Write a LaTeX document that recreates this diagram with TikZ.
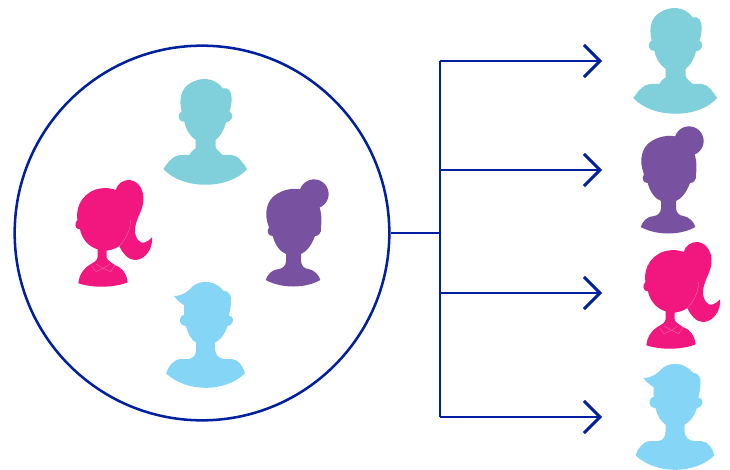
\documentclass[tikz,border=0pt]{standalone}
\usetikzlibrary{arrows.meta}
\definecolor{navy}{HTML}{00209F}
\definecolor{teal1}{HTML}{7FD0DB}
\definecolor{pink1}{HTML}{F2167F}
\definecolor{purp1}{HTML}{7851A1}
\definecolor{sky1}{HTML}{84D5F6}
\tikzset{
  x=0.75pt,y=-0.75pt,
  link/.style={draw=navy,line width=1.9pt},
  arrowlink/.style={link,-{Straight Barb[length=12pt,width=24pt,line width=2.2pt]}},
  teal man/.pic={
    \fill[teal1,x=0.25pt,y=-0.25pt] (95,125) .. controls (85,85) and (95,55) .. (120,40) .. controls (150,20) and (195,22) .. (218,55) .. controls (235,50) and (245,65) .. (245,85) .. controls (245,100) and (242,115) .. (238,125) .. controls (247,127) and (250,145) .. (240,152) .. controls (235,157) and (230,157) .. (228,157) .. controls (222,180) and (212,198) .. (197,210) -- (197,232) .. controls (200,240) and (210,248) .. (218,255) -- (245,255) .. controls (265,256) and (280,280) .. (291,297) .. controls (240,358) and (100,362) .. (40,297) .. controls (55,275) and (70,255) .. (95,255) -- (118,255) .. controls (122,245) and (130,240) .. (137,235) -- (137,210) .. controls (120,198) and (108,180) .. (103,155) .. controls (90,157) and (85,145) .. (87,135) .. controls (88,130) and (92,125) .. (95,125) -- cycle;
  },
  pink girl/.pic={
    \begin{scope}[x=0.25pt,y=-0.25pt]
    \fill[pink1] (60,178) .. controls (50,178) and (44,170) .. (47,158) .. controls (48,155) and (50,153) .. (52,150) .. controls (45,105) and (75,60) .. (125,55) .. controls (140,53) and (155,55) .. (167,60) .. controls (172,42) and (190,28) .. (210,30) .. controls (240,35) and (253,65) .. (250,95) .. controls (247,125) and (225,150) .. (225,180) .. controls (225,205) and (240,222) .. (252,218) .. controls (262,215) and (270,210) .. (276,202) .. controls (280,235) and (255,270) .. (225,270) .. controls (205,270) and (188,250) .. (178,228) .. controls (168,235) and (155,240) .. (140,242) -- (140,262) .. controls (142,272) and (155,278) .. (165,285) .. controls (185,292) and (200,310) .. (203,337) .. controls (160,354) and (100,354) .. (55,340) .. controls (58,312) and (72,295) .. (88,285) .. controls (98,278) and (110,275) .. (113,262) -- (113,238) .. controls (85,230) and (65,205) .. (60,178) -- cycle;
    \draw[white,opacity=.35,line width=.3pt] (212,150) .. controls (212,175) and (200,205) .. (178,228) (95,288) -- (108,305) -- (130,295) -- (152,305) -- (165,285) (108,282) -- (130,295) -- (150,282);
    \end{scope}
  },
  purple girl/.pic={
    \begin{scope}[x=0.25pt,y=-0.25pt]
    \fill[purp1] (177,72) circle[radius=44];
    \fill[purp1] (42,172) .. controls (25,130) and (35,90) .. (65,72) .. controls (100,50) and (150,50) .. (175,80) .. controls (195,100) and (203,135) .. (198,172) .. controls (200,190) and (190,198) .. (180,198) .. controls (170,225) and (155,245) .. (138,252) -- (138,275) .. controls (140,290) and (150,296) .. (160,297) .. controls (178,300) and (192,315) .. (196,330) .. controls (150,356) and (80,356) .. (32,330) .. controls (38,312) and (52,298) .. (72,297) .. controls (82,296) and (92,288) .. (93,275) -- (93,252) .. controls (75,245) and (60,225) .. (53,198) .. controls (40,198) and (33,185) .. (42,172) -- cycle;
    \end{scope}
  },
  blue man/.pic={
    \fill[sky1,x=0.25pt,y=-0.25pt] (87,105) .. controls (78,100) and (65,90) .. (57,78) .. controls (80,78) and (100,65) .. (112,50) .. controls (130,33) and (175,25) .. (205,62) .. controls (222,62) and (230,78) .. (228,95) .. controls (227,110) and (225,125) .. (221,137) .. controls (235,137) and (238,155) .. (228,163) .. controls (225,166) and (220,168) .. (217,168) .. controls (212,190) and (198,208) .. (180,218) -- (180,240) .. controls (182,255) and (192,266) .. (208,267) -- (230,267) .. controls (250,268) and (265,290) .. (270,310) .. controls (210,368) and (95,368) .. (33,310) .. controls (40,290) and (55,268) .. (78,267) -- (100,267) .. controls (115,266) and (123,255) .. (123,240) -- (123,218) .. controls (108,208) and (98,190) .. (93,168) .. controls (80,168) and (73,158) .. (75,147) .. controls (77,138) and (82,135) .. (87,135) -- cycle;
  },
}
\begin{document}
\begin{tikzpicture}
\useasboundingbox (0,0) rectangle (730,470);
\node[circle,draw=navy,line width=1.9pt,minimum size=281pt,inner sep=0pt] (crowd) at (202,233) {};
\pic at (150,70) {teal man};
\pic at (60,170) {pink girl};
\pic at (255,170) {purple girl};
\pic at (155,270) {blue man};
\pic at (620,-1) {teal man};
\pic at (375+255,117) {purple girl};
\pic at (628,232) {pink girl};
\pic at (624.5,352) {blue man};
\coordinate (hub) at (440,233);
\coordinate (top) at (440,61);
\coordinate (bottom) at (440,417);
\coordinate (j2) at (440,170);
\coordinate (j3) at (440,293);
\coordinate (a1) at (602,61);
\coordinate (a2) at (602,170);
\coordinate (a3) at (602,293);
\coordinate (a4) at (602,417);
\draw[link] (crowd.east) -- (hub);
\draw[link,line cap=butt] (top) -- (bottom);
\draw[arrowlink] (top) -- (a1);
\draw[arrowlink] (j2) -- (a2);
\draw[arrowlink] (j3) -- (a3);
\draw[arrowlink] (bottom) -- (a4);
\end{tikzpicture}
\end{document}
